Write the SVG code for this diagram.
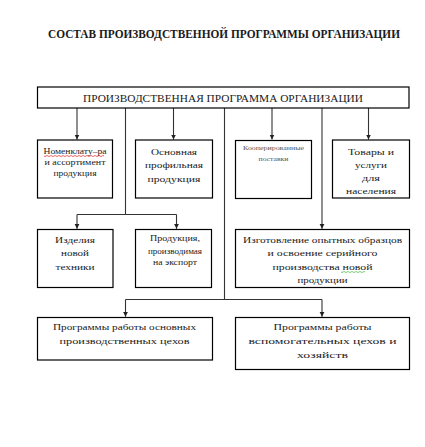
<svg xmlns="http://www.w3.org/2000/svg" width="425" height="447" viewBox="0 0 425 447">
<style>
.box{fill:#fff;stroke:#000;stroke-width:1.2}
.c{fill:none;stroke:#333;stroke-width:1.1}
text{font-family:'Liberation Serif','Times New Roman',serif;fill:#1a1a1a;text-anchor:middle}
.t{font-size:8.5px}
.s{font-size:6.5px;fill:#555}
.sp{fill:none;stroke-width:0.6}
</style>
<defs>
<marker id="ah" markerWidth="6" markerHeight="6" refX="5" refY="3" orient="auto" markerUnits="userSpaceOnUse">
<path d="M0,0.5 L5,3 L0,5.5 Z" fill="#222"/>
</marker>
</defs>
<rect width="425" height="447" fill="#fff"/>
<text x="224" y="38" font-family="Liberation Serif, serif" font-size="11.5" font-weight="bold" textLength="352" lengthAdjust="spacingAndGlyphs">СОСТАВ ПРОИЗВОДСТВЕННОЙ ПРОГРАММЫ ОРГАНИЗАЦИИ</text>

<g id="connectors">
<path class="c" d="M77,108 V139.5" marker-end="url(#ah)"/>
<path class="c" d="M173.5,108 V139.5" marker-end="url(#ah)"/>
<path class="c" d="M272,108 V139.5" marker-end="url(#ah)"/>
<path class="c" d="M368.5,108 V139.5" marker-end="url(#ah)"/>
<path class="c" d="M125.5,108 V214.5 M77,214.5 H176.5"/>
<path class="c" d="M77,214.5 V228.8" marker-end="url(#ah)"/>
<path class="c" d="M176.5,214.5 V228.8" marker-end="url(#ah)"/>
<path class="c" d="M322,108 V228.8" marker-end="url(#ah)"/>
<path class="c" d="M224.5,108 V299.5 M125.5,299.5 H322"/>
<path class="c" d="M125.5,299.5 V316.8" marker-end="url(#ah)"/>
<path class="c" d="M322,299.5 V316.8" marker-end="url(#ah)"/>
</g>

<g id="main">
<rect class="box" x="37.5" y="87" width="371.5" height="21"/>
<text x="223" y="102" font-size="10" textLength="280" lengthAdjust="spacingAndGlyphs">ПРОИЗВОДСТВЕННАЯ ПРОГРАММА  ОРГАНИЗАЦИИ</text>
</g>

<g id="n1">
<rect class="box" x="37.5" y="140" width="75" height="58"/>
<text class="t" x="75" y="154" textLength="63" lengthAdjust="spacingAndGlyphs">Номенклату–ра</text>
<text class="t" x="75" y="164.5" textLength="61" lengthAdjust="spacingAndGlyphs">и ассортимент</text>
<text class="t" x="75" y="175.5" textLength="43" lengthAdjust="spacingAndGlyphs">продукция</text>
<path class="sp" stroke="#d00" d="M44,156 q1,1 2,0 t2,0 t2,0 t2,0 t2,0 t2,0 t2,0 t2,0 t2,0 t2,0 t2,0 t2,0 t2,0 t2,0 t2,0 t2,0 t2,0 t2,0 t2,0 t2,0 t2,0 t2,0 t2,0 t2,0 t2,0 t2,0 t2,0 t2,0 t2,0 t2,0"/>
</g>

<g id="n2">
<rect class="box" x="135.5" y="140" width="77" height="58"/>
<text class="t" x="174" y="155" font-size="9" textLength="46" lengthAdjust="spacingAndGlyphs">Основная</text>
<text class="t" x="174" y="168" font-size="9" textLength="58" lengthAdjust="spacingAndGlyphs">профильная</text>
<text class="t" x="174" y="182" font-size="9" textLength="53" lengthAdjust="spacingAndGlyphs">продукция</text>
</g>

<g id="n3">
<rect class="box" x="235.5" y="140.5" width="76" height="58"/>
<text class="s" x="273.5" y="150" textLength="61" lengthAdjust="spacingAndGlyphs">Кооперированные</text>
<text class="s" x="273.5" y="161" textLength="30" lengthAdjust="spacingAndGlyphs">поставки</text>
</g>

<g id="n4">
<rect class="box" x="332.5" y="140" width="77" height="58"/>
<text class="t" x="371" y="155" font-size="9.5" textLength="46" lengthAdjust="spacingAndGlyphs">Товары и</text>
<text class="t" x="371" y="168" font-size="9.5" textLength="32" lengthAdjust="spacingAndGlyphs">услуги</text>
<text class="t" x="371" y="181" font-size="9.5" textLength="18" lengthAdjust="spacingAndGlyphs">для</text>
<text class="t" x="371" y="194" font-size="9.5" textLength="50" lengthAdjust="spacingAndGlyphs">населения</text>
</g>

<g id="n5">
<rect class="box" x="37.5" y="229.5" width="75.5" height="58"/>
<text class="t" x="75" y="243" font-size="9" textLength="40" lengthAdjust="spacingAndGlyphs">Изделия</text>
<text class="t" x="75" y="256" font-size="9" textLength="28" lengthAdjust="spacingAndGlyphs">новой</text>
<text class="t" x="75" y="270" font-size="9" textLength="39" lengthAdjust="spacingAndGlyphs">техники</text>
</g>

<g id="n6">
<rect class="box" x="135.5" y="229.5" width="76" height="58"/>
<text class="t" x="175" y="241" textLength="50" lengthAdjust="spacingAndGlyphs">Продукция,</text>
<text class="t" x="175" y="254" textLength="54" lengthAdjust="spacingAndGlyphs">производимая</text>
<text class="t" x="175" y="265" textLength="44" lengthAdjust="spacingAndGlyphs">на экспорт</text>
</g>

<g id="n7">
<rect class="box" x="235.5" y="229.5" width="174" height="58"/>
<text class="t" x="322.5" y="243" textLength="159" lengthAdjust="spacingAndGlyphs">Изготовление опытных образцов</text>
<text class="t" x="322.5" y="256" textLength="110" lengthAdjust="spacingAndGlyphs">и освоение серийного</text>
<text class="t" x="322.5" y="270" textLength="100" lengthAdjust="spacingAndGlyphs">производства новой</text>
<text class="t" x="322.5" y="283" textLength="50" lengthAdjust="spacingAndGlyphs">продукции</text>
<path class="sp" stroke="#2a2" d="M341,272 q1,1 2,0 t2,0 t2,0 t2,0 t2,0 t2,0 t2,0 t2,0 t2,0 t2,0 t2,0 t2,0"/>
</g>

<g id="n8">
<rect class="box" x="37.5" y="317.5" width="175" height="42.5"/>
<text class="t" x="124.5" y="330" textLength="143" lengthAdjust="spacingAndGlyphs">Программы работы основных</text>
<text class="t" x="124.5" y="344" textLength="130" lengthAdjust="spacingAndGlyphs">производственных цехов</text>
</g>

<g id="n9">
<rect class="box" x="235.5" y="317.5" width="174" height="52"/>
<text class="t" x="322.5" y="330" textLength="98" lengthAdjust="spacingAndGlyphs">Программы работы</text>
<text class="t" x="322.5" y="344" textLength="148" lengthAdjust="spacingAndGlyphs">вспомогательных цехов и</text>
<text class="t" x="322.5" y="358" textLength="51" lengthAdjust="spacingAndGlyphs">хозяйств</text>
</g>
</svg>
